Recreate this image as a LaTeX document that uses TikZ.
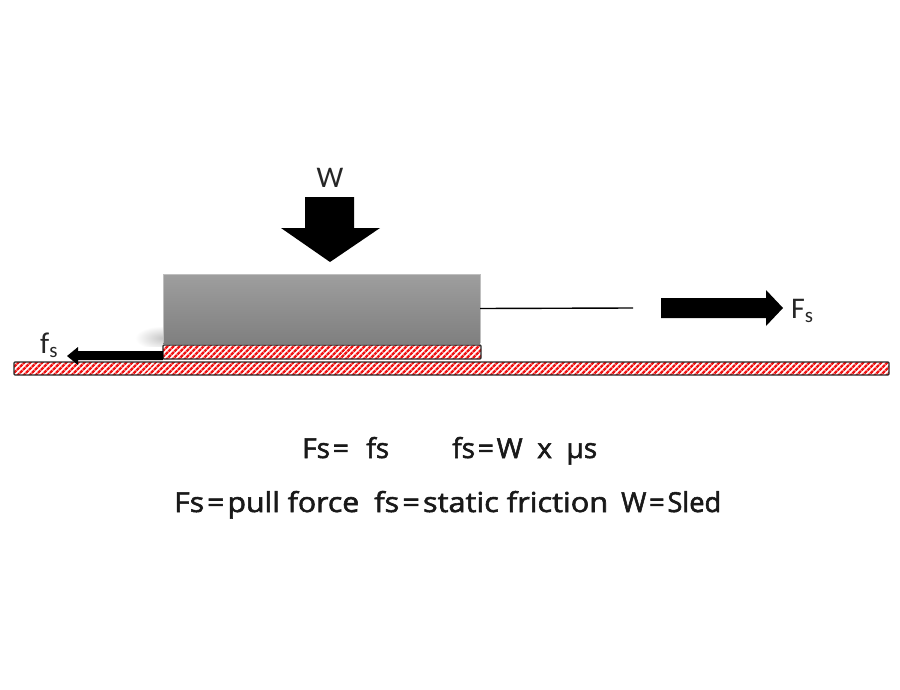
\documentclass[tikz,border=0pt]{standalone}
\usepackage{fontspec}
\usepackage{graphicx}
\setmainfont{Carlito}
\newfontfamily\kfont[FakeBold=2]{Open Sans}
\usetikzlibrary{patterns.meta}
\definecolor{hatchred}{RGB}{240,20,20}
\definecolor{edgegray}{RGB}{40,40,40}
\tikzset{
  strip/.style={draw=edgegray, line width=1.3pt, rounded corners=1pt,
    pattern={Lines[angle=45,distance=4pt,line width=2.6pt]}, pattern color=hatchred},
  blockarrow/.style={fill=black},
  lbl/.style={font=\fontsize{30}{31}\selectfont, text=black!85, inner sep=0pt},
  eqtext/.style={font=\kfont\fontsize{27.5}{30}\selectfont, text=black!90, inner sep=0pt, anchor=base west}
}
\newcommand{\eqs}{\kern0.1em=\kern0.1em}
\newcommand{\phr}[2]{\resizebox{#1pt}{\height}{#2}}
\begin{document}
\begin{tikzpicture}[x=1pt,y=-1pt]
\useasboundingbox (0,0) rectangle (900,690);
\fill[white] (0,0) rectangle (900,690);
% shadow
\begin{scope}
\clip (120,300) rectangle (163,346);
\shade[inner color=gray!45, outer color=white] (163,338) ellipse [x radius=28, y radius=12];
\end{scope}
% ground and runner
\draw[strip] (14,362) rectangle (889,375);
\draw[strip] (163,345) rectangle (481,359);
% sled block
\shade[top color=black!38, bottom color=black!50] (163,274) rectangle (480,343);
\draw[black!25, line width=0.6pt] (163,343) -- (163,274) -- (480,274) -- (480,343);
\node[inner sep=0pt, minimum width=317pt, minimum height=69pt] (sled) at (321.5,308.5) {};
\coordinate (ropeend) at (633,308);
\draw[black, line width=1.4pt] (sled.east) -- (ropeend);
% W arrow
\fill[blockarrow] (305,197) -- (354,197) -- (354,228) -- (380,228) -- (330,262) -- (281,228) -- (305,228) -- cycle;
\node[lbl] (wl) at (330,178) {W};
% Fs arrow
\fill[blockarrow] (661,298) -- (766,298) -- (766,290) -- (783,308) -- (766,326) -- (766,318) -- (661,318) -- cycle;
\node[lbl, anchor=west] (Fl) at (791,311) {F\textsubscript{s}};
% fs arrow
\fill[blockarrow] (163,351) -- (78,351) -- (78,347) -- (67,356) -- (78,365) -- (78,360) -- (163,360) -- cycle;
\node[lbl, anchor=west] (fl) at (40,345) {f\textsubscript{s}};
% equations
\node[eqtext] (e1) at (302,458) {\phr{87}{Fs\eqs\ \ fs}};
\node[eqtext] (e2) at (452,458) {\phr{145}{fs\eqs W\ \ x\ \ µs}};
\node[eqtext] (e3a) at (174,512) {\phr{185}{Fs\eqs pull force}};
\node[eqtext] (e3b) at (374,512) {\phr{234}{fs\eqs static friction}};
\node[eqtext] (e3c) at (621,512) {\phr{100}{W\eqs Sled}};
\end{tikzpicture}
\end{document}
